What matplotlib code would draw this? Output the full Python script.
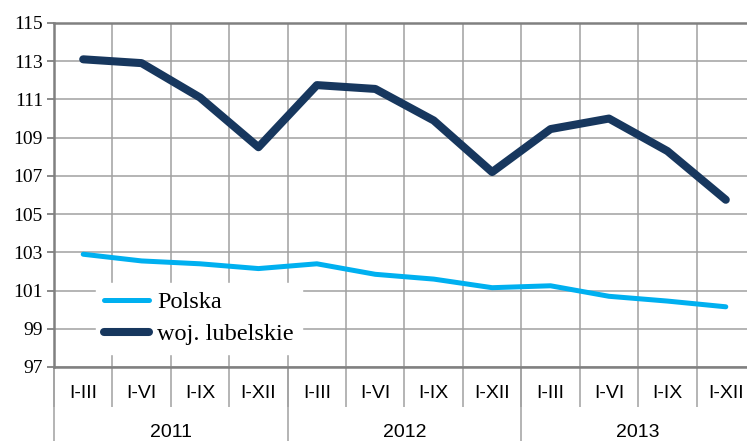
import numpy as np
import matplotlib.pyplot as plt
from matplotlib import font_manager
from matplotlib.lines import Line2D

periods = ["I-III", "I-VI", "I-IX", "I-XII"] * 3
years = ["2011", "2012", "2013"]
polska = [102.9, 102.55, 102.4, 102.15, 102.4, 101.85, 101.6, 101.15, 101.25, 100.7, 100.45, 100.15]
lubelskie = [113.1, 112.9, 111.1, 108.5, 111.75, 111.55, 109.9, 107.2, 109.45, 110.0, 108.3, 105.75]
y_ticks = list(range(97, 116, 2))

serif = ['Liberation Serif', 'DejaVu Serif']
installed = {f.name for f in font_manager.fontManager.ttflist}
if 'Liberation Sans Narrow' in installed:
    narrow, cat_size = ['Liberation Sans Narrow', 'DejaVu Sans'], 15
else:
    narrow, cat_size = ['Liberation Sans', 'DejaVu Sans'], 14

fig = plt.figure(figsize=(7.47, 4.41), dpi=100)
ax = fig.add_axes([54 / 747, 74 / 441, 701 / 747, 344 / 441])

x = np.arange(len(periods))
ax.plot(x, polska, color='#00B0F0', lw=3.6, solid_capstyle='round', label='Polska', zorder=3)
ax.plot(x, lubelskie, color='#17375E', lw=5.8, solid_capstyle='round', label='woj. lubelskie', zorder=3)

ax.set_xlim(-0.5, len(periods) - 0.5)
ax.set_ylim(97, 115)
ax.set_yticks(y_ticks)
ax.set_yticklabels([str(v) for v in y_ticks], family=serif, fontsize=14)

ax.set_xticks(x)
ax.set_xticklabels(periods, family=narrow, fontsize=cat_size)
ax.set_xticks(np.arange(-0.5, len(periods)), minor=True)
ax.tick_params(axis='x', which='major', length=0, pad=13)
ax.tick_params(axis='x', which='minor', length=29, width=1.1, color='#A0A0A0', direction='out')
ax.tick_params(axis='y', length=5, width=1.3, color='#808080', pad=3)

ax.grid(which='minor', axis='x', color='#A0A0A0', lw=1.1)
ax.grid(which='major', axis='y', color='#A0A0A0', lw=1.1)
ax.set_axisbelow(True)

for side in ['left', 'bottom', 'top']:
    ax.spines[side].set_color('#808080')
    ax.spines[side].set_linewidth(1.8)
ax.spines['right'].set_visible(False)

# year separators and labels under the period labels
trans = ax.get_xaxis_transform()
n = len(periods) // len(years)
for i, year in enumerate(years):
    ax.add_line(Line2D([i * n - 0.5, i * n - 0.5], [0, -0.23], transform=trans,
                       color='#A0A0A0', lw=1.1, clip_on=False))
    ax.text(i * n + (n - 1) / 2, -0.189, year, transform=trans, ha='center', va='center',
            family=narrow, fontsize=cat_size)

leg = ax.legend(loc='center', bbox_to_anchor=(0.207, 0.142), prop={'family': serif, 'size': 17.5},
                handlelength=1.85, handletextpad=0.33, labelspacing=0.42,
                frameon=True, fancybox=False, borderpad=0.35)
leg.get_frame().set_edgecolor('white')
leg.get_frame().set_facecolor('white')
leg.get_frame().set_alpha(1)

fig.savefig('out.png', dpi=100)
